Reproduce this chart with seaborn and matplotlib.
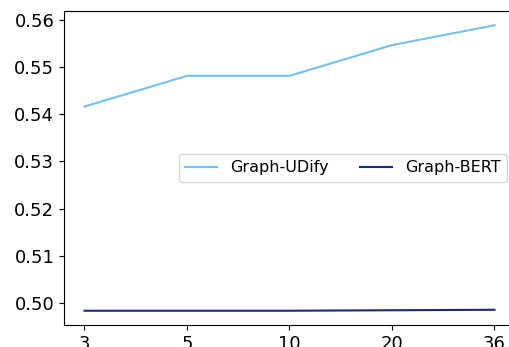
import matplotlib
matplotlib.use("Agg")
import matplotlib.pyplot as plt
import seaborn as sns
import pandas as pd

categories = ["3", "5", "10", "20", "36"]
graph_udify = [0.5416, 0.5481, 0.5481, 0.5546, 0.5588]
graph_bert = [0.4984, 0.4984, 0.4984, 0.4985, 0.4986]

df = pd.DataFrame({
    "k": categories * 2,
    "score": graph_udify + graph_bert,
    "model": ["Graph-UDify"] * len(categories) + ["Graph-BERT"] * len(categories),
})

plt.rcParams['font.family'] = ['DejaVu Sans']

fig = plt.figure(figsize=(5.09, 3.47), dpi=100)
ax = fig.add_axes([64/509, 22/347, 451/509, 314/347])
sns.lineplot(data=df, x="k", y="score", hue="model",
             palette={"Graph-UDify": "#74bff5", "Graph-BERT": "#1c2a6b"},
             linewidth=1.5, ax=ax, sort=False)
ax.set_xlabel("")
ax.set_ylabel("")
ax.tick_params(labelsize=13)
ax.set_yticks([0.50, 0.51, 0.52, 0.53, 0.54, 0.55, 0.56])
ax.legend(loc="center right", ncol=2, fontsize=11.5, title=None)
fig.savefig("out.png", dpi=100)
